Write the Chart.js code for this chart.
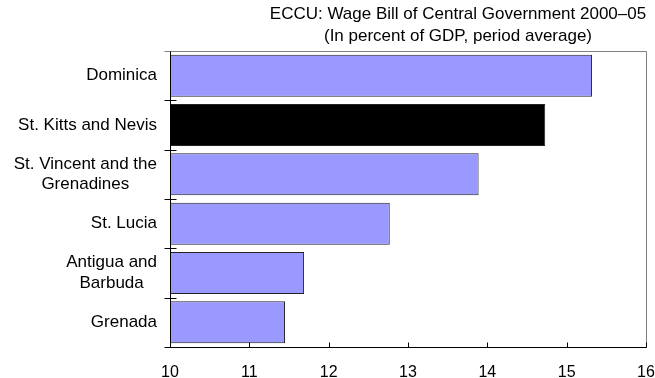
<!DOCTYPE html>
<html>
<head>
<meta charset="utf-8">
<script src="https://cdn.jsdelivr.net/npm/chart.js@4"></script>
<style>
  html, body { margin: 0; padding: 0; background: #fff; }
  canvas { display: block; }
</style>
</head>
<body>
<canvas id="wageChart" width="655" height="378"></canvas>
<script>
// ECCU wage bill, percent of GDP, 2000-05 average
const countries = [
  ['Dominica'],
  ['St. Kitts and Nevis'],
  ['St. Vincent and the', 'Grenadines'],
  ['St. Lucia'],
  ['Antigua and', 'Barbuda'],
  ['Grenada']
];
const wageBill = [15.32, 14.73, 13.89, 12.77, 11.69, 11.45];
const barColors = ['#9999ff', '#000000', '#9999ff', '#9999ff', '#9999ff', '#9999ff'];
const xTicks = [10, 11, 12, 13, 14, 15, 16];
const titleLines = ['ECCU: Wage Bill of Central Government 2000\u201305', '(In percent of GDP, period average)'];

const FONT = '"Liberation Sans", Arial, sans-serif';

// frame, tick marks, category labels and title are drawn by hand
const framePlugin = {
  id: 'frame',
  afterDraw(chart) {
    const ctx = chart.ctx;
    const { left, right, top, bottom } = chart.chartArea;
    const xs = chart.scales.x, ys = chart.scales.y;
    const L = Math.round(left) + 0.5, R = Math.round(right) + 0.5;
    const T = Math.round(top) + 0.5, B = Math.round(bottom) + 0.5;
    ctx.save();
    ctx.lineWidth = 1;

    ctx.strokeStyle = '#808080';
    ctx.beginPath();
    ctx.moveTo(L - 6, T);
    ctx.lineTo(R, T);
    ctx.lineTo(R, B);
    ctx.stroke();

    ctx.strokeStyle = '#000';
    ctx.beginPath();
    ctx.moveTo(L, T);
    ctx.lineTo(L, B);
    ctx.moveTo(L - 6, B);
    ctx.lineTo(R, B);
    for (let i = 1; i < chart.data.labels.length; i++) {
      const py = Math.round((ys.getPixelForValue(i - 1) + ys.getPixelForValue(i)) / 2) + 0.5;
      ctx.moveTo(L - 6, py);
      ctx.lineTo(L + 6, py);
    }
    xs.ticks.forEach(t => {
      const px = Math.round(xs.getPixelForValue(t.value)) + 0.5;
      ctx.moveTo(px, B);
      ctx.lineTo(px, B - 5);
    });
    ctx.stroke();

    ctx.fillStyle = '#000';
    ctx.font = '17px ' + FONT;
    ctx.textAlign = 'center';
    ctx.textBaseline = 'middle';
    chart.data.labels.forEach((lines, i) => {
      const w = Math.max(...lines.map(l => ctx.measureText(l).width));
      const cx = left - 13 - w / 2;
      const cy = ys.getPixelForValue(i);
      lines.forEach((l, j) => ctx.fillText(l, cx, cy + (j - (lines.length - 1) / 2) * 20.5));
    });

    titleLines.forEach((l, j) => ctx.fillText(l, 458, 14 + j * 22));
    ctx.restore();
  }
};

new Chart(document.getElementById('wageChart'), {
  type: 'bar',
  data: {
    labels: countries,
    datasets: [{
      data: wageBill,
      backgroundColor: barColors,
      borderColor: '#222',
      borderWidth: 1,
      barPercentage: 0.85,
      categoryPercentage: 1
    }]
  },
  options: {
    indexAxis: 'y',
    responsive: false,
    animation: false,
    layout: { padding: { top: 51, right: 9, left: 0, bottom: 0 } },
    plugins: { legend: { display: false }, tooltip: { enabled: false } },
    scales: {
      x: {
        type: 'linear',
        min: 10,
        max: 16,
        afterBuildTicks: s => { s.ticks = xTicks.map(v => ({ value: v })); },
        afterFit: s => { s.height = 31; s.paddingLeft = 0; s.paddingRight = 0; },
        grid: { display: false, drawTicks: false },
        border: { display: false },
        ticks: { color: '#000', padding: 16, font: { family: FONT, size: 16 } }
      },
      y: {
        type: 'category',
        offset: true,
        afterFit: s => { s.width = 170; },
        grid: { display: false, drawTicks: false },
        border: { display: false },
        ticks: { display: false }
      }
    }
  },
  plugins: [framePlugin]
});
</script>
</body>
</html>
